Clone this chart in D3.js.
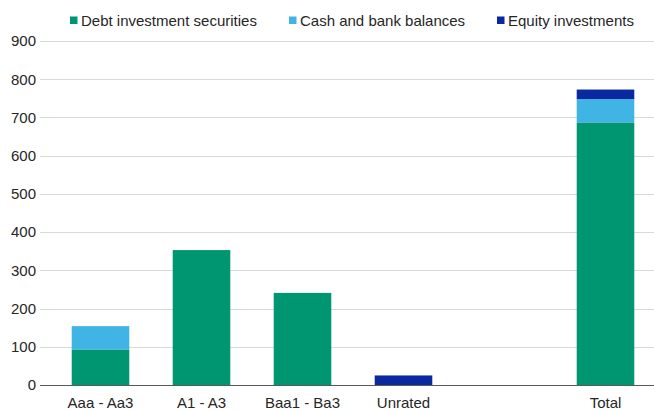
<!DOCTYPE html>
<html>
<head>
<meta charset="utf-8">
<script src="https://cdn.jsdelivr.net/npm/d3@7"></script>
<style>
  html, body { margin: 0; padding: 0; background: #fff; }
  svg { display: block; font-family: "Liberation Sans", Arial, sans-serif; }
</style>
</head>
<body>
<svg id="chart" width="654" height="410"></svg>
<script>
// Rating buckets (the blank slot separates the total from the rated buckets)
const categories = ["Aaa - Aa3", "A1 - A3", "Baa1 - Ba3", "Unrated", "", "Total"];
const seriesNames = ["Debt investment securities", "Cash and bank balances", "Equity investments"];
const debtValues   = [93, 353, 241, 0, 0, 687];
const cashValues   = [61, 0, 0, 0, 0, 61];
const equityValues = [0, 0, 0, 25, 0, 25];
const yTicks = [0, 100, 200, 300, 400, 500, 600, 700, 800, 900];
const colors = ["#009672", "#41b4e6", "#0a28a0"];

const svg = d3.select("#chart");

const x = d3.scaleBand().domain(categories).range([50, 656]).paddingInner(0.43).paddingOuter(0.215);
const y = d3.scaleLinear().domain([0, 900]).range([385, 41]);

const rows = categories.map((c, i) => ({
  cat: c,
  "Debt investment securities": debtValues[i],
  "Cash and bank balances": cashValues[i],
  "Equity investments": equityValues[i]
}));
const stacked = d3.stack().keys(seriesNames)(rows);

// Horizontal gridlines
svg.append("g")
  .selectAll("line")
  .data(yTicks.filter(t => t > 0))
  .join("line")
  .attr("x1", 40).attr("x2", 654)
  .attr("y1", d => Math.round(y(d)) + 0.5)
  .attr("y2", d => Math.round(y(d)) + 0.5)
  .attr("stroke", "#d9d9d9")
  .attr("stroke-width", 1);

// Y axis labels
const yAxis = d3.axisLeft(y).tickValues(yTicks).tickSize(0).tickPadding(0);
const yg = svg.append("g").attr("transform", "translate(36,0)").call(yAxis);
yg.select(".domain").remove();
yg.selectAll("text")
  .attr("font-size", 15)
  .attr("fill", "#262626")
  .attr("font-family", "'Liberation Sans', Arial, sans-serif");

// Stacked bars
svg.append("g")
  .selectAll("g")
  .data(stacked)
  .join("g")
  .attr("fill", (d, i) => colors[i])
  .selectAll("rect")
  .data(d => d.filter(s => s[1] - s[0] > 0))
  .join("rect")
  .attr("x", d => x(d.data.cat))
  .attr("width", x.bandwidth())
  .attr("y", d => y(d[1]))
  .attr("height", d => y(d[0]) - y(d[1]));

// Baseline / x axis
const xAxis = d3.axisBottom(x).tickSize(0).tickPadding(0);
const xg = svg.append("g").attr("transform", "translate(0,385)").call(xAxis);
xg.select(".domain").remove();
xg.selectAll("text")
  .attr("font-size", 15)
  .attr("fill", "#262626")
  .attr("font-family", "'Liberation Sans', Arial, sans-serif")
  .attr("y", 12);
svg.append("line")
  .attr("x1", 40).attr("x2", 654)
  .attr("y1", 385.5).attr("y2", 385.5)
  .attr("stroke", "#595959")
  .attr("stroke-width", 1);

// Legend
const legendX = [70, 289, 497];
const legend = svg.append("g")
  .selectAll("g")
  .data(seriesNames)
  .join("g")
  .attr("transform", (d, i) => `translate(${legendX[i]},0)`);
legend.append("rect")
  .attr("x", 0).attr("y", 16.5).attr("width", 7.5).attr("height", 7.5)
  .attr("fill", (d, i) => colors[i]);
legend.append("text")
  .attr("x", 11).attr("y", 26)
  .attr("font-size", 15)
  .attr("fill", "#262626")
  .text(d => d);
</script>
</body>
</html>
